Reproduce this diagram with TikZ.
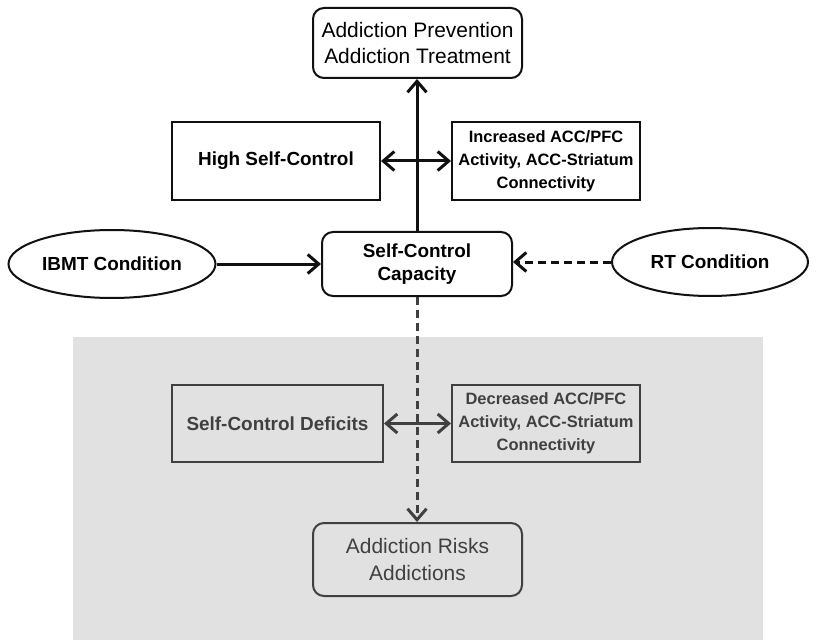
\documentclass[tikz,border=0pt]{standalone}
\usepackage{fontspec}
\setmainfont{Liberation Sans}
\usetikzlibrary{arrows.meta,shapes.geometric}
\definecolor{cInk}{HTML}{111111}
\definecolor{cGrey}{HTML}{404040}
\definecolor{cShade}{HTML}{E1E1E1}
\tikzset{
  arrow/.style={-{Straight Barb[length=11bp,width=19bp]}, line width=3bp, draw=cInk},
  darrow/.style={{Straight Barb[length=11bp,width=19bp]}-{Straight Barb[length=11bp,width=19bp]}, line width=3bp, draw=cInk},
  dasharrow/.style={arrow, dash pattern=on 8bp off 5bp},
  box/.style={draw=cInk, line width=2bp, fill=white, align=center, inner sep=0pt,
    font=\bfseries\fontsize{19}{23}\selectfont},
  small/.style={font=\bfseries\fontsize{16.5}{23}\selectfont},
  plain/.style={font=\mdseries\fontsize{21}{27}\selectfont},
  rbox/.style={box, rounded corners=11bp},
  cond/.style={box, ellipse},
  low/.style={draw=cGrey, text=cGrey, fill=cShade},
}
\begin{document}
\begin{tikzpicture}[x=1bp,y=-1bp]
  \useasboundingbox (0,0) rectangle (818,640);
  % shaded lower part
  \fill[cShade] (73,337) rectangle (763,640);
  % upper part
  \node[rbox,plain,minimum width=209bp,minimum height=70bp] (prev) at (417.5,43)
    {Addiction Prevention\\Addiction Treatment};
  \node[box,minimum width=208bp,minimum height=78bp] (high) at (276,161) {High Self-Control};
  \node[box,small,minimum width=188bp,minimum height=78bp] (incr) at (546,161)
    {Increased ACC/PFC\\Activity, ACC-Striatum\\Connectivity};
  \node[rbox,minimum width=190bp,minimum height=64bp] (cap) at (417,264) {Self-Control\\Capacity};
  \node[cond,minimum width=207bp,minimum height=68bp] (ibmt) at (112,264) {IBMT Condition};
  \node[cond,minimum width=196bp,minimum height=68bp] (rt) at (710,262) {RT Condition};
  % lower part
  \node[box,low,minimum width=211bp,minimum height=77bp] (defi) at (277.5,423.5) {Self-Control Deficits};
  \node[box,low,small,minimum width=188bp,minimum height=77bp] (decr) at (546,423.5)
    {Decreased ACC/PFC\\Activity, ACC-Striatum\\Connectivity};
  \node[rbox,low,plain,minimum width=209bp,minimum height=73bp] (risk) at (417.5,559.5)
    {Addiction Risks\\Addictions};
  % connectors
  \draw[arrow] (cap.north) -- (cap.north |- prev.south);
  \draw[darrow] (high.east) -- (incr.west);
  \draw[arrow] (ibmt.east) -- (ibmt.east -| cap.west);
  \draw[dasharrow] (rt.west) -- (rt.west -| cap.east);
  \draw[dasharrow,draw=cGrey] (cap.south) -- (cap.south |- risk.north);
  \draw[darrow,draw=cGrey] (defi.east) -- (decr.west);
\end{tikzpicture}
\end{document}
